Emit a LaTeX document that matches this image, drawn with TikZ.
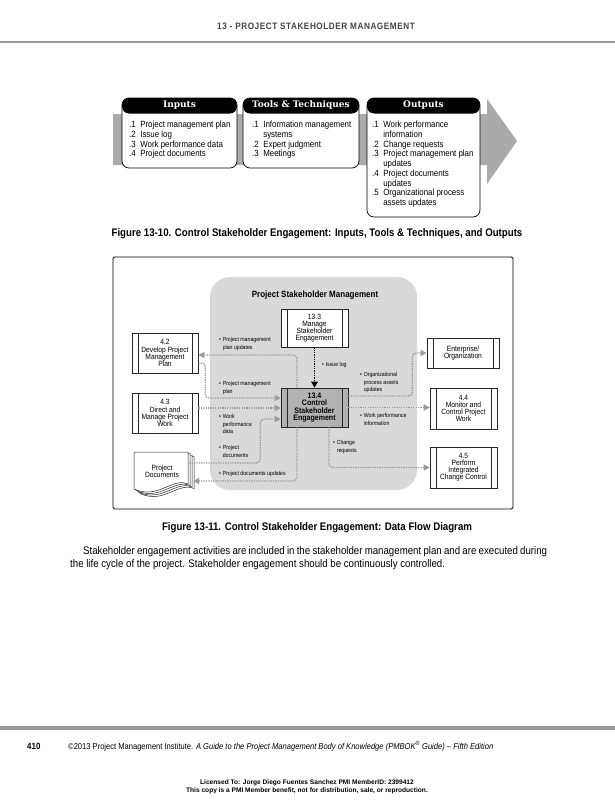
\documentclass[tikz,border=0pt]{standalone}
\usepackage{fontspec}
\setmainfont{Liberation Sans}[FakeStretch=0.88]
\newfontfamily\widesans{Liberation Sans}
\newfontfamily\slabfont{DejaVu Serif}
\usetikzlibrary{arrows.meta,calc}
\definecolor{flowgray}{HTML}{9A9A9A}
\definecolor{regiongray}{HTML}{D9D9D9}
\definecolor{procgray}{HTML}{B2B2B2}
\definecolor{bandgray}{HTML}{AAAAAA}
\definecolor{rulegray}{HTML}{9C9C9C}
\definecolor{headgray}{HTML}{444444}
\newcommand\setfs[2]{\fontsize{#1}{#2}\selectfont}
\newcommand\lbul{\makebox[3.6pt][l]{\textbullet}}
\newcommand\lind{\hspace*{3.6pt}}
\tikzset{
  ittobox/.style={draw=black, line width=0.7pt, fill=white, rounded corners=7pt, inner sep=0pt,
    path picture={\fill[black] (path picture bounding box.north west) rectangle ([yshift=-15.5pt]path picture bounding box.north east);}},
  ittohead/.style={text=white, font=\slabfont\bfseries\setfs{9}{10}, inner sep=0pt},
  ittolist/.style={anchor=north west, inner sep=0pt, font=\setfs{9}{9.75}},
  figcap/.style={font=\bfseries\setfs{11}{13}, inner sep=0pt},
  procbox/.style={draw=black!85, line width=0.6pt, fill=white, inner sep=0pt, align=center,
    font=\setfs{7.6}{7.1},
    path picture={\draw[line width=0.5pt, black!85]
      ([xshift=6pt]path picture bounding box.north west) -- ([xshift=6pt]path picture bounding box.south west)
      ([xshift=-6pt]path picture bounding box.north east) -- ([xshift=-6pt]path picture bounding box.south east);}},
  flow/.style={draw=flowgray, line width=1.3pt, dash pattern=on 1.3pt off 1.1pt, rounded corners=4pt,
    -{Triangle[length=6pt,width=6pt]}},
  issueflow/.style={draw=black, line width=1.6pt, dash pattern=on 1.3pt off 1pt,
    -{Triangle[length=6pt,width=6.5pt]}},
  lbl/.style={anchor=north west, inner sep=0pt, align=left, font=\setfs{5.9}{7.5}},
  docpage/.style={draw=black!85, fill=white, line width=0.5pt}
}
\begin{document}
\begin{tikzpicture}[x=1pt,y=-1pt]
\useasboundingbox (0,0) rectangle (615,800);
\fill[white] (0,0) rectangle (615,800);

% page header
\node[font=\bfseries\setfs{9.3}{10}\addfontfeature{LetterSpace=6}, text=headgray, inner sep=0pt] (hdr) at (316,26.7) {13 - PROJECT STAKEHOLDER MANAGEMENT};
\draw[rulegray, line width=2.5pt] (0,42) -- (615,42);

% ITTO band arrow
\fill[bandgray] (113,114) -- (487,114) -- (487,99) -- (517,141) -- (487,184) -- (487,165) -- (113,165) -- cycle;

\node[ittobox, minimum width=115pt, minimum height=70pt] (inbox) at (179.5,133) {};
\node[ittobox, minimum width=116pt, minimum height=70pt] (ttbox) at (301,133) {};
\node[ittobox, minimum width=113pt, minimum height=119pt] (outbox) at (423.5,157.5) {};

\node[ittohead] (inhead) at (179.5,105.5) {Inputs};
\node[ittohead] (tthead) at (301,105.5) {Tools \& Techniques};
\node[ittohead] (outhead) at (423.5,105.5) {Outputs};

\node[ittolist] (inlist) at (129,120.5) {\begin{tabular}{@{}l@{\hspace{4.5pt}}l@{}}
.1 & Project management plan\\
.2 & Issue log\\
.3 & Work performance data\\
.4 & Project documents
\end{tabular}};
\node[ittolist] (ttlist) at (252,120.5) {\begin{tabular}{@{}l@{\hspace{4.5pt}}l@{}}
.1 & Information management\\
 & systems\\
.2 & Expert judgment\\
.3 & Meetings
\end{tabular}};
\node[ittolist] (outlist) at (372,120.5) {\begin{tabular}{@{}l@{\hspace{4.5pt}}l@{}}
.1 & Work performance\\
 & information\\
.2 & Change requests\\
.3 & Project management plan\\
 & updates\\
.4 & Project documents\\
 & updates\\
.5 & Organizational process\\
 & assets updates
\end{tabular}};

\node[figcap] (cap10) at (317,234) {Figure 13-10. Control Stakeholder Engagement: Inputs, Tools \& Techniques, and Outputs};

% data flow diagram
\node[draw=black, line width=0.8pt, rounded corners=1.5pt, minimum width=400pt, minimum height=252pt, inner sep=0pt] (frame) at (313,383) {};
\node[fill=regiongray, rounded corners=20pt, minimum width=207pt, minimum height=213pt, inner sep=0pt] (psm) at (313.5,383.5) {};
\node[font=\bfseries\setfs{9.1}{10}, inner sep=0pt] (psmtitle) at (315,295) {Project Stakeholder Management};

\node[procbox, minimum width=66pt, minimum height=40pt] (p42) at (165,353) {4.2\\Develop Project\\Management\\Plan};
\node[procbox, minimum width=66pt, minimum height=40pt] (p43) at (165,413) {4.3\\Direct and\\Manage Project\\Work};
\node[procbox, minimum width=67pt, minimum height=38pt] (p133) at (314.5,328) {13.3\\Manage\\Stakeholder\\Engagement};
\node[procbox, fill=procgray, font=\bfseries\setfs{8}{7.3}, minimum width=67pt, minimum height=39pt] (p134) at (314.5,407.5) {13.4\\Control\\Stakeholder\\Engagement};
\node[procbox, minimum width=72pt, minimum height=30pt] (ent) at (463,353) {Enterprise/\\Organization};
\node[procbox, minimum width=67pt, minimum height=41pt] (p44) at (463.5,408.5) {4.4\\Monitor and\\Control Project\\Work};
\node[procbox, minimum width=67pt, minimum height=41pt] (p45) at (463.5,467.5) {4.5\\Perform\\Integrated\\Change Control};

% project documents stack
\foreach \k in {3,2,1,0}{
  \draw[docpage] (134+2*\k,452+1.5*\k) -- (188+2*\k,452+1.5*\k) -- (188+2*\k,484+1.5*\k)
    .. controls (172+2*\k,477+1.5*\k) and (158+2*\k,500+1.5*\k) .. (134+2*\k,489+1.5*\k) -- cycle;
}
\node[align=center, font=\setfs{7.6}{7.3}, minimum width=54pt, minimum height=40pt, inner sep=0pt] (docs) at (162,471) {Project\\Documents};

% flows
\draw[flow] ([xshift=-17.5pt]p134.north) |- ([yshift=-2pt]p42.east);
\draw[flow] ([yshift=-10pt]p42.east) -- ++(7,0) |- ([yshift=9.5pt]p134.west);
\draw[flow] ([yshift=5pt]p43.east) -- ([yshift=5pt]p43.east -| p134.west);
\draw[flow] ([yshift=8pt]docs.east) -- ++(71,0) |- ([yshift=-11.5pt]p134.west);
\draw[flow] ([xshift=-17.5pt]p134.south) |- ([xshift=4pt,yshift=-10pt]docs.east);
\draw[flow] ([yshift=11.5pt]p134.east) -- ++(64,0) |- (ent.west);
\draw[flow] (p134.east) -- (p134.east -| p44.west);
\draw[flow] ([xshift=14.5pt]p134.south) |- (p45.west);
\draw[issueflow] (p133.south) -- (p134.north);

% labels
\node[lbl] (l1) at (219,337.5) {\lbul Project management\\\lind plan updates};
\node[lbl] (l2) at (219,381.5) {\lbul Project management\\\lind plan};
\node[lbl] (l3) at (219,414.5) {\lbul Work\\\lind performance\\\lind data};
\node[lbl] (l4) at (219,445.5) {\lbul Project\\\lind documents};
\node[lbl] (l5) at (219,471.5) {\lbul Project documents updates};
\node[lbl] (l6) at (322,362.5) {\lbul Issue log};
\node[lbl] (l7) at (360,372.5) {\lbul Organizational\\\lind process assets\\\lind updates};
\node[lbl] (l8) at (360,413.5) {\lbul Work performance\\\lind information};
\node[lbl] (l9) at (333,440.5) {\lbul Change\\\lind requests};

\node[figcap] (cap11) at (317,528) {Figure 13-11. Control Stakeholder Engagement: Data Flow Diagram};

\node[anchor=north west, text width=477pt, align=justify, inner sep=0pt, font=\setfs{11}{13}] (body) at (70,546.5) {\hspace*{13pt}Stakeholder engagement activities are included in the stakeholder management plan and are executed during\linebreak the life cycle of the project. Stakeholder engagement should be continuously controlled.};

% footer
\draw[rulegray, line width=4pt] (0,728) -- (615,728);
\node[anchor=west, font=\bfseries\setfs{9}{10}, inner sep=0pt] (pg) at (27,746) {410};
\node[anchor=west, font=\setfs{8.6}{10}, inner sep=0pt] (copy) at (68,746) {\textcopyright 2013 Project Management Institute. \textit{A Guide to the Project Management Body of Knowledge (PMBOK\textsuperscript{\textregistered} Guide) – Fifth Edition}};
\node[align=center, font=\widesans\bfseries\setfs{6.6}{8}, inner sep=0pt] (lic) at (307,787) {Licensed To: Jorge Diego Fuentes Sanchez PMI MemberID: 2399412\\This copy is a PMI Member benefit, not for distribution, sale, or reproduction.};
\end{tikzpicture}
\end{document}
